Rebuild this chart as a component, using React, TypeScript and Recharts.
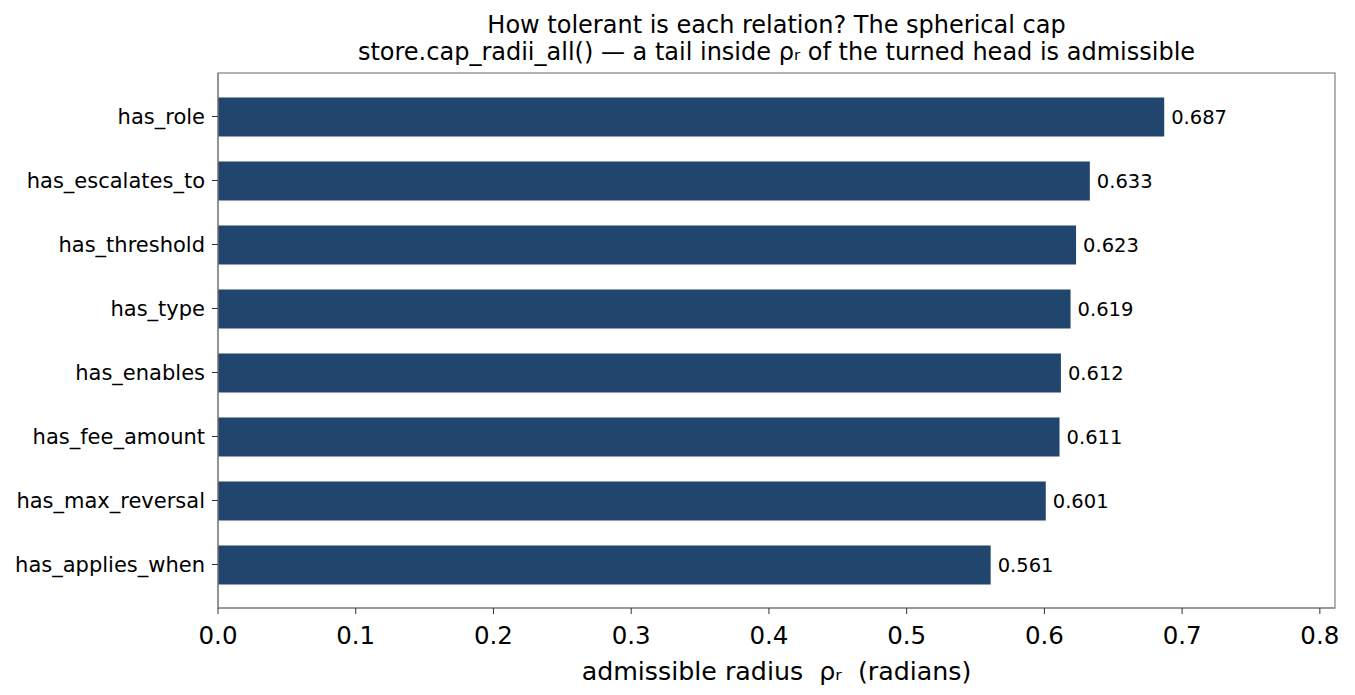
import React from 'react';
import { BarChart, Bar, XAxis, YAxis, LabelList } from 'recharts';

const categories = [
  'has_role',
  'has_escalates_to',
  'has_threshold',
  'has_type',
  'has_enables',
  'has_fee_amount',
  'has_max_reversal',
  'has_applies_when',
];
const radii = [0.687, 0.633, 0.623, 0.619, 0.612, 0.611, 0.601, 0.561];
const xTicks = [0, 0.1, 0.2, 0.3, 0.4, 0.5, 0.6, 0.7, 0.8];
const xMax = 0.811;

const titleLines = [
  'How tolerant is each relation? The spherical cap',
  'store.cap_radii_all() \u2014 a tail inside \u03c1\u1d63 of the turned head is admissible',
];
const xLabel = 'admissible radius  \u03c1\u1d63  (radians)';

const data = categories.map((c, i) => ({ name: c, value: radii[i] }));

const FONT = '"DejaVu Sans", sans-serif';
const BAR = '#22456d';
const SPINE = '#808080';

const W = 1355;
const H = 695;
const PL = 218;
const PR = 1335;
const PT = 73;
const PB = 608;

const ValueLabel = (props: any) => {
  const { x, y, width, height, value } = props;
  return (
    <text
      x={Number(x) + Number(width) + 7}
      y={Number(y) + Number(height) / 2}
      dy="0.35em"
      fontSize={19.5}
      fontFamily={FONT}
      fill="#000"
    >
      {Number(value).toFixed(3)}
    </text>
  );
};

export default function App() {
  const cx = (PL + PR) / 2;
  return (
    <div style={{ position: 'absolute', left: 0, top: 0, width: W, height: H, background: '#fff' }}>
      <BarChart
        width={W}
        height={H}
        data={data}
        layout="vertical"
        margin={{ top: PT, right: W - PR, bottom: 0, left: 0 }}
        barSize={39}
      >
        <XAxis
          type="number"
          domain={[0, xMax]}
          ticks={xTicks}
          allowDataOverflow
          tickFormatter={(v: number) => v.toFixed(1)}
          tick={{ fontSize: 24.5, fontFamily: FONT, fill: '#000' }}
          tickSize={6}
          tickMargin={13}
          tickLine={{ stroke: '#333' }}
          axisLine={{ stroke: SPINE, strokeWidth: 1.2 }}
          height={H - PB}
        />
        <YAxis
          type="category"
          dataKey="name"
          width={PL}
          padding={{ top: 11.5, bottom: 11.5 }}
          tick={{ fontSize: 21, fontFamily: FONT, fill: '#000' }}
          tickSize={6}
          tickMargin={7}
          tickLine={{ stroke: '#333' }}
          axisLine={{ stroke: SPINE, strokeWidth: 1.2 }}
          interval={0}
        />
        <rect
          x={PL}
          y={PT}
          width={PR - PL}
          height={PB - PT}
          fill="none"
          stroke={SPINE}
          strokeWidth={1.2}
        />
        <Bar dataKey="value" fill={BAR} isAnimationActive={false}>
          <LabelList dataKey="value" content={ValueLabel} />
        </Bar>
        <text x={cx} y={32.5} textAnchor="middle" fontSize={24} fontFamily={FONT} fill="#000">
          {titleLines[0]}
        </text>
        <text x={cx} y={59.5} textAnchor="middle" fontSize={24} fontFamily={FONT} fill="#000">
          {titleLines[1]}
        </text>
        <text
          x={cx}
          y={680}
          textAnchor="middle"
          fontSize={25.3}
          fontFamily={FONT}
          fill="#000"
          style={{ whiteSpace: 'pre' }}
        >
          {xLabel}
        </text>
      </BarChart>
    </div>
  );
}
